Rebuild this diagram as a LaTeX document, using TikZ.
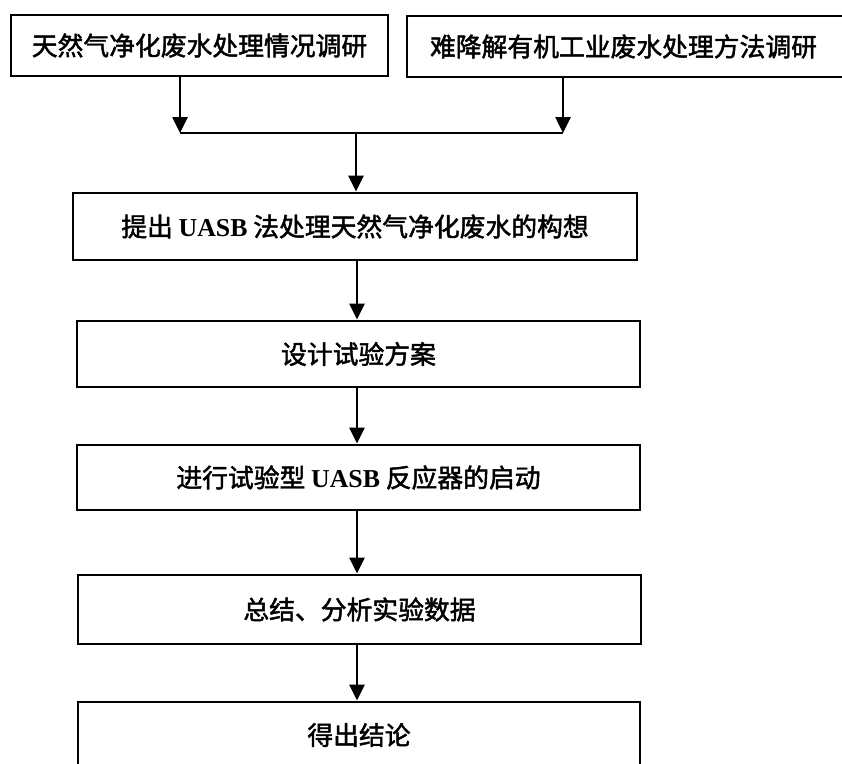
\documentclass[tikz,border=0pt]{standalone}
\usepackage{fontspec}
\setmainfont{Liberation Serif}
\newfontfamily\cjk[FakeBold=1.8]{Noto Sans CJK SC}
\usetikzlibrary{arrows.meta}
\newcommand\lat[1]{{\rmfamily\bfseries #1}}
\tikzset{
  boxnode/.style={draw=black, line width=2.8pt, inner sep=0pt, font=\cjk\fontsize{25.8}{30}\selectfont, text=black},
  flowarrow/.style={line width=2.6pt, -{Triangle[width=15pt,length=16pt]}},
  flowline/.style={line width=2.6pt}
}
\begin{document}
\begin{tikzpicture}[x=1pt,y=-1pt]
\clip (0,0) rectangle (842,763);
\fill[white] (0,0) rectangle (842,763);
\node[boxnode, minimum width=377pt, minimum height=61pt] (t1) at (199.5,45.5) {天然气净化废水处理情况调研};
\node[boxnode, minimum width=437pt, minimum height=61pt] (t2) at (625.5,46.5) {\hspace*{-4pt}难降解有机工业废水处理方法调研};
\node[boxnode, minimum width=564pt, minimum height=67pt] (b1) at (355,226.5) {提出 \lat{UASB} 法处理天然气净化废水的构想};
\node[boxnode, minimum width=563pt, minimum height=66pt] (b2) at (358.5,354) {设计试验方案};
\node[boxnode, minimum width=563pt, minimum height=65pt] (b3) at (358.5,477.5) {进行试验型 \lat{UASB} 反应器的启动};
\node[boxnode, minimum width=563pt, minimum height=69pt] (b4) at (359.5,609.5) {总结、分析实验数据};
\node[boxnode, minimum width=562pt, minimum height=66pt] (b5) at (359,735) {得出结论};
\coordinate (jl) at (180,133);
\coordinate (jr) at (563,133);
\coordinate (jc) at (356,133);
\draw[flowarrow] (t1.south -| jl) -- (jl);
\draw[flowarrow] (t2.south -| jr) -- (jr);
\draw[flowline] (jl) -- (jr);
\draw[flowarrow] (jc) -- (b1.north -| jc);
\draw[flowarrow] (b1.south -| jc) ++(1,0) coordinate (a1) (a1) -- (a1 |- b2.north);
\draw[flowarrow] (b2.south -| jc) ++(1,0) coordinate (a2) (a2) -- (a2 |- b3.north);
\draw[flowarrow] (b3.south -| jc) ++(1,0) coordinate (a3) (a3) -- (a3 |- b4.north);
\draw[flowarrow] (b4.south -| jc) ++(1,0) coordinate (a4) (a4) -- (a4 |- b5.north);
\end{tikzpicture}
\end{document}
